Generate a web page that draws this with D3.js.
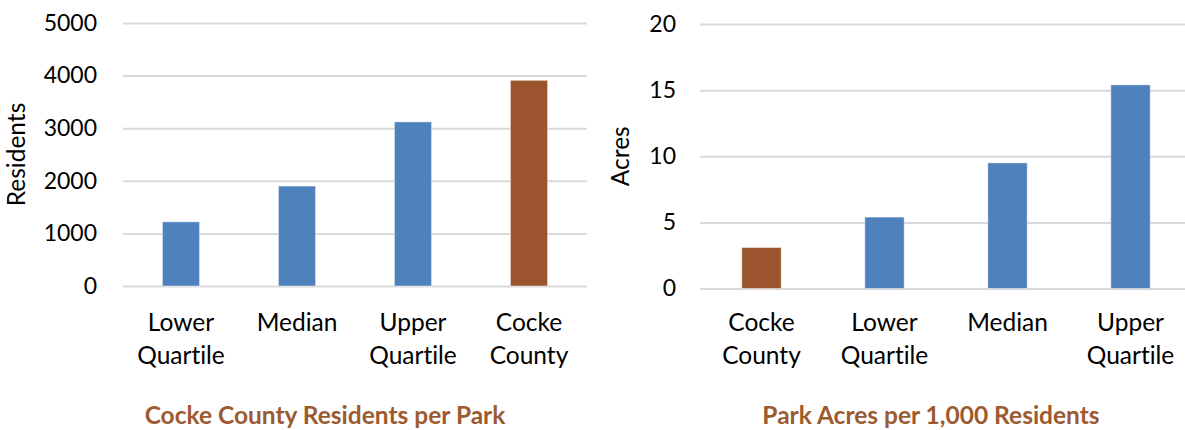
<!DOCTYPE html>
<html>
<head>
<meta charset="utf-8">
<script src="https://cdn.jsdelivr.net/npm/d3@7"></script>
<style>
  body { margin: 0; background: #fff; }
  svg text { font-family: Lato, "Open Sans", sans-serif; fill: #000; font-variant-ligatures: none; }
  .grid line { stroke: #d9d9d9; stroke-width: 2; }
  .grid .domain { display: none; }
  .ticks .domain { display: none; }
  .ticks text { font-size: 23px; }
  .cat { font-size: 24.5px; }
  .ytitle { font-size: 24.5px; }
  .ctitle { font-size: 24.5px; font-weight: bold; fill: #9c5a30 !important; }
</style>
</head>
<body>
<svg id="chart" width="1185" height="430"></svg>
<script>
// Left chart: residents per park
var residentCats = ["Lower Quartile", "Median", "Upper Quartile", "Cocke County"];
var residentVals = [1220, 1900, 3120, 3910];
var residentTicks = [0, 1000, 2000, 3000, 4000, 5000];

// Right chart: park acres per 1,000 residents
var acreCats = ["Cocke County", "Lower Quartile", "Median", "Upper Quartile"];
var acreVals = [3.1, 5.4, 9.5, 15.4];
var acreTicks = [0, 5, 10, 15, 20];

var highlight = "Cocke County";
var blue = "#4f81bd",
    brown = "#9b542d";

var svg = d3.select("#chart");

/**
 * Draw one bar panel
 */
function drawPanel(cfg) {
    var g = svg.append("g");

    var xScale = d3.scaleBand()
        .domain(cfg.cats)
        .range([cfg.x0, cfg.x1])
        .paddingInner(0.68)
        .paddingOuter(0.34);

    var yScale = d3.scaleLinear()
        .domain([0, cfg.ticks[cfg.ticks.length - 1]])
        .range([cfg.yBottom, cfg.yTop]);

    // gridlines
    g.append("g")
        .attr("class", "grid")
        .attr("transform", "translate(" + cfg.x0 + ",0)")
        .call(d3.axisLeft(yScale)
            .tickValues(cfg.ticks)
            .tickSize(-(cfg.x1 - cfg.x0))
            .tickFormat(""));

    // tick labels
    g.append("g")
        .attr("class", "ticks")
        .attr("transform", "translate(" + cfg.labelRight + ",0)")
        .call(d3.axisLeft(yScale)
            .tickValues(cfg.ticks)
            .tickSize(0)
            .tickPadding(0)
            .tickFormat(d3.format("d")));

    var bars = g.selectAll("rect.bar")
        .data(cfg.cats.map(function (c, i) { return {cat: c, val: cfg.vals[i]}; }));

    bars.enter()
        .append("rect")
        .attr("class", "bar")
        .attr("x", function (d) { return xScale(d.cat); })
        .attr("width", xScale.bandwidth())
        .attr("y", function (d) { return yScale(d.val); })
        .attr("height", function (d) { return yScale(0) - yScale(d.val); })
        .attr("fill", function (d) { return d.cat === highlight ? brown : blue; })
        .attr("stroke", "#ffffff")
        .attr("stroke-opacity", 0.45)
        .attr("stroke-width", 1);

    // category labels, split over two lines
    var cats = g.selectAll("text.cat")
        .data(cfg.cats)
        .enter()
        .append("text")
        .attr("class", "cat")
        .attr("text-anchor", "middle")
        .attr("transform", function (d) {
            return "translate(" + (xScale(d) + xScale.bandwidth() / 2) + ",331)";
        });

    cats.selectAll("tspan")
        .data(function (d) { return d.split(" "); })
        .enter()
        .append("tspan")
        .attr("x", 0)
        .attr("y", function (d, i) { return i * 33; })
        .text(function (d) { return d; });

    // y axis title
    g.append("text")
        .attr("class", "ytitle")
        .attr("text-anchor", "middle")
        .attr("transform", "translate(" + cfg.yTitleX + "," + ((cfg.yTop + cfg.yBottom) / 2) + ") rotate(-90)")
        .text(cfg.yTitle);

    // chart title
    g.append("text")
        .attr("class", "ctitle")
        .attr("text-anchor", "middle")
        .attr("x", cfg.titleX)
        .attr("y", 424)
        .text(cfg.title);
}

drawPanel({
    cats: residentCats, vals: residentVals, ticks: residentTicks,
    x0: 123, x1: 587, yTop: 23, yBottom: 286,
    labelRight: 97, yTitleX: 25, yTitle: "Residents",
    title: "Cocke County Residents per Park", titleX: 325
});

drawPanel({
    cats: acreCats, vals: acreVals, ticks: acreTicks,
    x0: 700, x1: 1192, yTop: 24, yBottom: 288.5,
    labelRight: 676, yTitleX: 629, yTitle: "Acres",
    title: "Park Acres per 1,000 Residents", titleX: 931
});
</script>
</body>
</html>
